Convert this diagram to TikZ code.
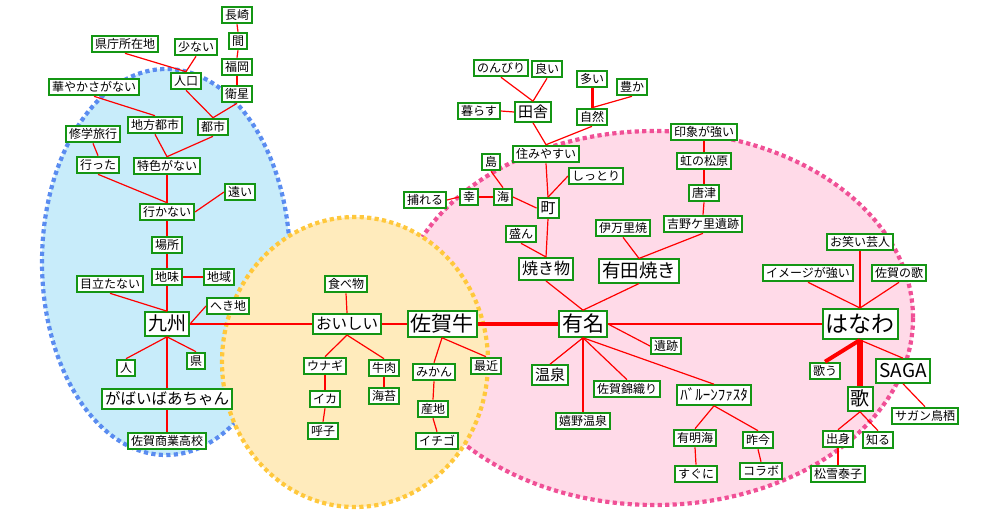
\documentclass[tikz,border=0pt]{standalone}
\usepackage{fontspec}
\newfontfamily\cjkjp{Noto Sans CJK JP}
\definecolor{boxgreen}{RGB}{20,150,20}
\definecolor{bluefill}{RGB}{200,236,250}
\definecolor{bluedot}{RGB}{90,140,240}
\definecolor{yelfill}{RGB}{255,235,188}
\definecolor{yeldot}{RGB}{255,200,60}
\definecolor{pinkfill}{RGB}{255,218,232}
\definecolor{pinkdot}{RGB}{240,80,150}
\definecolor{linered}{RGB}{255,0,0}
\tikzset{
  sz/.style={font=\cjkjp\fontsize{#1pt}{#1pt}\selectfont, text height=0.86*#1pt, text depth=0.14*#1pt},
  box/.style={draw=boxgreen, fill=white, line width=2pt, inner xsep=3pt, inner ysep=2.3pt, text=black, sz=12},
  ln/.style={draw=linered, line width=1.2pt},
  dotborder/.style={line width=4.2pt, dash pattern=on 4.2pt off 3.3pt},
}
\begin{document}
\begin{tikzpicture}[x=1pt,y=-1pt]
\useasboundingbox (0,0) rectangle (1000,519);
% regions
\path[fill=bluefill, draw=bluedot, dotborder] (166,262) ellipse [x radius=124, y radius=193];
\path[fill=pinkfill, draw=pinkdot, dotborder] (655,318) ellipse [x radius=258, y radius=187];
\path[fill=yelfill, draw=yeldot, dotborder] (355,362) ellipse [x radius=133, y radius=145];

% ---- Kyushu cluster
\node[box] (nagasaki) at (237,15) {長崎};
\node[box] (aida) at (238,41) {間};
\node[box] (fukuoka) at (237,67) {福岡};
\node[box] (eisei) at (237,94) {衛星};
\node[box] (kencho) at (125,44) {県庁所在地};
\node[box] (sukunai) at (196,47) {少ない};
\node[box] (jinko) at (186,81) {人口};
\node[box] (hanayaka) at (94,87) {華やかさがない};
\node[box] (chiho) at (155,125) {地方都市};
\node[box] (toshi) at (213,127) {都市};
\node[box] (shugaku) at (93,134) {修学旅行};
\node[box] (itta) at (98,165) {行った};
\node[box] (tokushoku) at (167,166) {特色がない};
\node[box] (tooi) at (240,192) {遠い};
\node[box] (ikanai) at (167,212) {行かない};
\node[box] (basho) at (167,245) {場所};
\node[box] (jimi) at (167,277) {地味};
\node[box] (chiiki) at (219,277) {地域};
\node[box] (medatanai) at (110,284) {目立たない};
\node[box, sz=19] (kyushu) at (167,324) {九州};
\node[box] (hekichi) at (228,306) {へき地};
\node[box] (hito) at (126,368) {人};
\node[box] (ken) at (196,361) {県};
\node[box, sz=15.5] (gabai) at (167,399) {がばいばあちゃん};
\node[box] (shogyo) at (167,441) {佐賀商業高校};

% ---- food cluster
\node[box] (tabemono) at (346,284) {食べ物};
\node[box, sz=15.5] (oishii) at (347,324) {おいしい};
\node[box, sz=21] (sagagyu) at (442,324) {佐賀牛};
\node[box] (unagi) at (325,366) {ウナギ};
\node[box] (gyuniku) at (384,368) {牛肉};
\node[box] (mikan) at (434,372) {みかん};
\node[box] (saikin) at (486,366) {最近};
\node[box] (ika) at (325,399) {イカ};
\node[box] (nori) at (384,396) {海苔};
\node[box] (sanchi) at (433,409) {産地};
\node[box] (yobuko) at (323,431) {呼子};
\node[box] (ichigo) at (437,441) {イチゴ};

% ---- famous cluster
\node[box] (nonbiri) at (501,68) {のんびり};
\node[box] (yoi) at (547,69) {良い};
\node[box] (oi) at (592,79) {多い};
\node[box] (yutaka) at (632,87) {豊か};
\node[box] (kurasu) at (479,111) {暮らす};
\node[box, sz=15] (inaka) at (533,112) {田舎};
\node[box] (shizen) at (592,117) {自然};
\node[box] (sumiyasui) at (546,154) {住みやすい};
\node[box] (shima) at (491,162) {島};
\node[box] (shittori) at (596,176) {しっとり};
\node[box] (toreru) at (425,200) {捕れる};
\node[box] (sachi) at (469,197) {幸};
\node[box] (umi) at (503,197) {海};
\node[box, sz=15] (machi) at (548,208) {町};
\node[box] (sakan) at (521,234) {盛ん};
\node[box] (imari) at (623,228) {伊万里焼};
\node[box, sz=16, inner ysep=3pt] (yakimono) at (546,269) {焼き物};
\node[box, sz=18.5] (arita) at (639,271) {有田焼き};
\node[box] (insho) at (704,132) {印象が強い};
\node[box] (niji) at (704,161) {虹の松原};
\node[box] (karatsu) at (704,193) {唐津};
\node[box] (yoshinogari) at (703,224) {吉野ケ里遺跡};
\node[box, sz=21] (yumei) at (583,324) {有名};
\node[box] (iseki) at (666,346) {遺跡};
\node[box, sz=15] (onsen) at (550,375) {温泉};
\node[box] (nishiki) at (627,389) {佐賀錦織り};
\node[box] (ureshino) at (583,421) {嬉野温泉};
\node[box, sz=15] (balloon) at (714,395) {ﾊﾞﾙｰﾝﾌｧｽﾀ};
\node[box] (ariake) at (695,438) {有明海};
\node[box] (sakkon) at (758,440) {昨今};
\node[box] (suguni) at (696,474) {すぐに};
\node[box] (korabo) at (761,471) {コラボ};
\node[box] (owarai) at (860,242) {お笑い芸人};
\node[box] (imagestr) at (808,273) {イメージが強い};
\node[box] (sagauta) at (899,273) {佐賀の歌};
\node[box, sz=23, inner ysep=3.5pt] (hanawa) at (860,324) {はなわ};
\node[box] (utau) at (825,371) {歌う};
\node[box, sz=19] (saga) at (903,371) {SAGA};
\node[box, sz=19] (uta) at (860,399) {歌};
\node[box] (sagan) at (925,416) {サガン鳥栖};
\node[box] (shusshin) at (838,439) {出身};
\node[box] (shiru) at (878,440) {知る};
\node[box] (matsuyuki) at (838,474) {松雪泰子};

% ---- connectors: Kyushu
\draw[ln] (nagasaki.south) -- (aida.north);
\draw[ln] (aida.south) -- (fukuoka.north);
\draw[ln] (fukuoka.south) -- (eisei.north);
\draw[ln] (eisei.south) -- (toshi.north);
\draw[ln] (kencho.south) -- (jinko.north);
\draw[ln] (sukunai.south) -- (jinko.north);
\draw[ln] (jinko.south) -- (toshi.north);
\draw[ln] (hanayaka.south) -- (chiho.north);
\draw[ln] (chiho.south) -- (tokushoku.north);
\draw[ln] (toshi.south) -- (tokushoku.north);
\draw[ln] (shugaku.south) -- (itta.north);
\draw[ln] (itta.south) -- (ikanai.north);
\draw[ln] (tokushoku.south) -- (ikanai.north);
\draw[ln] (ikanai.east) -- (tooi.west);
\draw[ln] (ikanai.south) -- (basho.north);
\draw[ln] (basho.south) -- (jimi.north);
\draw[ln] (jimi.east) -- (chiiki.west);
\draw[ln] (jimi.south) -- (kyushu.north);
\draw[ln] (medatanai.south) -- (kyushu.north);
\draw[ln] (kyushu.east) -- (hekichi.west);
\draw[ln] (kyushu.south) -- (hito.north);
\draw[ln] (kyushu.south) -- (ken.north);
\draw[ln] (kyushu.south) -- (gabai.north);
\draw[ln] (gabai.south) -- (shogyo.north);
\draw[ln] (kyushu.east) -- (oishii.west);

% ---- connectors: food
\draw[ln] (tabemono.south) -- (oishii.north);
\draw[ln] (oishii.east) -- (sagagyu.west);
\draw[ln] (oishii.south) -- (unagi.north);
\draw[ln] (oishii.south) -- (gyuniku.north);
\draw[ln] (unagi.south) -- (ika.north);
\draw[ln] (ika.south) -- (yobuko.north);
\draw[ln] (gyuniku.south) -- (nori.north);
\draw[ln] (sagagyu.south) -- (mikan.north);
\draw[ln] (sagagyu.south) -- (saikin.north);
\draw[ln] (mikan.south) -- (sanchi.north);
\draw[ln] (sanchi.south) -- (ichigo.north);
\draw[ln, line width=4.5pt] (sagagyu.east) -- (yumei.west);

% ---- connectors: famous
\draw[ln] (yumei.north) -- (yakimono.south);
\draw[ln] (yumei.north) -- (arita.south);
\draw[ln] (yakimono.north) -- (machi.south);
\draw[ln] (sakan.south) -- (yakimono.north);
\draw[ln] (machi.north) -- (sumiyasui.south);
\draw[ln] (machi.north) -- (shittori.west);
\draw[ln] (umi.east) -- (machi.west);
\draw[ln] (sachi.east) -- (umi.west);
\draw[ln] (toreru.east) -- (sachi.west);
\draw[ln] (shima.south) -- (umi.north);
\draw[ln] (sumiyasui.north) -- (inaka.south);
\draw[ln] (sumiyasui.north) -- (shizen.south);
\draw[ln] (kurasu.east) -- (inaka.west);
\draw[ln] (inaka.north) -- (nonbiri.south);
\draw[ln] (inaka.north) -- (yoi.south);
\draw[ln, line width=3pt] (shizen.north) -- (oi.south);
\draw[ln] (shizen.north) -- (yutaka.south);
\draw[ln] (imari.south) -- (arita.north);
\draw[ln] (yoshinogari.south) -- (arita.north);
\draw[ln] (yoshinogari.north) -- (karatsu.south);
\draw[ln] (karatsu.north) -- (niji.south);
\draw[ln] (niji.north) -- (insho.south);
\draw[ln] (yumei.east) -- (hanawa.west);
\draw[ln] (yumei.east) -- (iseki.west);
\draw[ln] (yumei.south) -- (onsen.north);
\draw[ln] (yumei.south) -- (nishiki.north);
\draw[ln] (yumei.south) -- (ureshino.north);
\draw[ln] (yumei.south) -- (balloon.north);
\draw[ln] (balloon.south) -- (ariake.north);
\draw[ln] (balloon.south) -- (sakkon.north);
\draw[ln] (ariake.south) -- (suguni.north);
\draw[ln] (sakkon.south) -- (korabo.north);
\draw[ln] (hanawa.north) -- (owarai.south);
\draw[ln] (hanawa.north) -- (imagestr.south);
\draw[ln] (hanawa.north) -- (sagauta.south);
\draw[ln, line width=4pt] (hanawa.south) -- (utau.north);
\draw[ln, line width=6.5pt] (hanawa.south) -- (uta.north);
\draw[ln] (hanawa.south) -- (saga.north);
\draw[ln] (saga.south) -- (sagan.north);
\draw[ln] (uta.south) -- (shusshin.north);
\draw[ln] (uta.south) -- (shiru.north);
\draw[ln] (shusshin.south) -- (matsuyuki.north);
\end{tikzpicture}
\end{document}
